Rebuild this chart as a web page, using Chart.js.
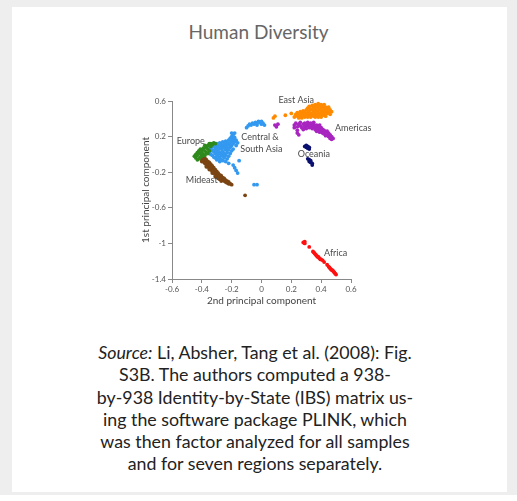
<!DOCTYPE html>
<html>
<head>
<meta charset="utf-8">
<script src="https://cdn.jsdelivr.net/npm/chart.js@4/dist/chart.umd.min.js"></script>
<style>
  html, body { margin: 0; padding: 0; background: #ffffff; width: 517px; height: 501px; overflow: hidden; }
  #frame { position: absolute; left: 0; top: 0; width: 517px; height: 495px; background: #eeeeee; }
  #card { position: absolute; left: 12px; top: 7px; width: 495px; height: 485px; background: #ffffff; }
  #title { position: absolute; left: 0; top: 20px; width: 517px; text-align: center; font-family: Lato, sans-serif; font-size: 19px; color: #666666; line-height: 24px; }
  #chartBox { position: absolute; left: 120px; top: 80px; width: 260px; height: 240px; }
  #caption { position: absolute; left: 0; top: 341px; width: 510px; text-align: center; font-family: Lato, sans-serif; font-size: 17.8px; line-height: 22.3px; color: #222222; }
</style>
</head>
<body>
<div id="frame"><div id="card"></div></div>
<div id="title">Human Diversity</div>
<div id="chartBox"><canvas id="c" width="260" height="240"></canvas></div>
<div id="caption"><i>Source:</i> Li, Absher, Tang et al. (2008): Fig.<br>S3B. The authors computed a 938-<br>by-938 Identity-by-State (IBS) matrix us-<br>ing the software package PLINK, which<br>was then factor analyzed for all samples<br>and for seven regions separately.</div>
<script>
// ---- data (x = 2nd principal component, y = 1st principal component) ----
const regions = ["Europe", "Mideast", "Central & South Asia", "East Asia", "Americas", "Oceania", "Africa"];

const europe = [[-0.45,-0.02],[-0.44,0.00],[-0.44,-0.04],[-0.43,0.02],[-0.43,-0.01],[-0.42,0.04],[-0.42,-0.05],[-0.41,0.01],[-0.41,-0.03],[-0.40,0.05],[-0.40,0.02],[-0.40,-0.02],[-0.39,0.07],[-0.39,0.00],[-0.38,0.04],[-0.38,-0.01],[-0.37,0.08],[-0.37,0.02],[-0.36,0.06],[-0.36,0.10],[-0.35,0.04],[-0.35,0.12],[-0.34,0.09],[-0.34,0.12],[-0.33,0.11],[-0.32,0.13],[-0.31,0.12],[-0.43,-0.06],[-0.41,0.06],[-0.38,0.10],[-0.36,0.01],[-0.42,0.03]];

const mideast = [[-0.41,-0.04],[-0.40,-0.02],[-0.40,-0.06],[-0.39,-0.05],[-0.39,-0.08],[-0.38,-0.07],[-0.38,-0.10],[-0.37,-0.09],[-0.37,-0.12],[-0.36,-0.11],[-0.36,-0.14],[-0.35,-0.12],[-0.35,-0.15],[-0.34,-0.14],[-0.34,-0.17],[-0.33,-0.16],[-0.33,-0.19],[-0.32,-0.18],[-0.32,-0.21],[-0.31,-0.20],[-0.31,-0.23],[-0.30,-0.22],[-0.30,-0.25],[-0.29,-0.24],[-0.28,-0.26],[-0.28,-0.28],[-0.27,-0.27],[-0.26,-0.29],[-0.25,-0.30],[-0.24,-0.31],[-0.23,-0.32],[-0.22,-0.33],[-0.21,-0.33],[-0.20,-0.34],[-0.11,-0.46],
  [-0.40,-0.08],[-0.39,-0.02],[-0.38,-0.04],[-0.37,-0.06],[-0.36,-0.08],[-0.35,-0.09],[-0.34,-0.11],[-0.33,-0.13],[-0.32,-0.15],[-0.31,-0.17],[-0.30,-0.19],[-0.29,-0.21],[-0.29,-0.27],[-0.28,-0.23],[-0.27,-0.24],[-0.27,-0.30],[-0.26,-0.26],[-0.25,-0.27],[-0.24,-0.29],[-0.23,-0.30],[-0.22,-0.31],[-0.37,-0.14],[-0.35,-0.17],[-0.33,-0.21],[-0.31,-0.25]];

const centralSouthAsia = [[-0.35,0.06],[-0.35,0.02],[-0.34,0.08],[-0.34,0.04],[-0.34,0.00],[-0.33,0.10],[-0.33,0.05],[-0.33,-0.01],[-0.32,0.09],[-0.32,0.03],[-0.32,-0.03],[-0.31,0.11],[-0.31,0.06],[-0.31,0.01],[-0.31,-0.04],[-0.30,0.12],[-0.30,0.08],[-0.30,0.03],[-0.30,-0.02],[-0.30,-0.06],[-0.29,0.10],[-0.29,0.05],[-0.29,0.00],[-0.29,-0.05],[-0.28,0.13],[-0.28,0.08],[-0.28,0.02],[-0.28,-0.03],[-0.28,-0.08],[-0.27,0.11],[-0.27,0.06],[-0.27,0.00],[-0.27,-0.06],[-0.26,0.14],[-0.26,0.09],[-0.26,0.03],[-0.26,-0.02],[-0.26,-0.07],[-0.25,0.12],[-0.25,0.07],[-0.25,0.01],[-0.25,-0.04],[-0.24,0.15],[-0.24,0.10],[-0.24,0.05],[-0.24,-0.01],[-0.24,-0.08],[-0.23,0.13],[-0.23,0.08],[-0.23,0.02],[-0.23,-0.05],[-0.22,0.16],[-0.22,0.11],[-0.22,0.05],[-0.22,-0.02],[-0.21,0.18],[-0.21,0.13],[-0.21,0.08],[-0.21,0.01],[-0.20,0.20],[-0.20,0.15],[-0.20,0.10],[-0.20,0.04],[-0.19,0.22],[-0.19,0.17],[-0.19,0.12],[-0.19,0.06],[-0.18,0.19],[-0.18,0.14],[-0.17,0.16],[-0.17,0.10],[-0.16,0.13],[-0.18,0.24],[-0.20,0.24],
  [-0.22,-0.10],[-0.19,-0.12],[-0.18,-0.15],[-0.17,-0.18],[-0.16,-0.21],[-0.15,-0.07],[-0.05,-0.34],[-0.03,-0.34],
  [-0.10,0.30],[-0.09,0.32],[-0.08,0.34],[-0.07,0.33],[-0.06,0.35],[-0.05,0.34],[-0.04,0.36],[-0.03,0.35],[-0.02,0.37],[-0.01,0.36],[0.00,0.37],[0.01,0.35],[0.02,0.33],[-0.03,0.33],[0.00,0.34]];

const eastAsia = [[0.22,0.42],[0.23,0.45],[0.24,0.43],[0.24,0.47],[0.25,0.41],[0.25,0.45],[0.26,0.48],[0.26,0.43],[0.27,0.46],[0.27,0.41],[0.28,0.49],[0.28,0.44],[0.29,0.47],[0.29,0.42],[0.30,0.50],[0.30,0.45],[0.31,0.52],[0.31,0.47],[0.31,0.42],[0.32,0.54],[0.32,0.49],[0.32,0.44],[0.33,0.51],[0.33,0.46],[0.33,0.42],[0.34,0.55],[0.34,0.50],[0.34,0.45],[0.35,0.53],[0.35,0.48],[0.35,0.43],[0.36,0.56],[0.36,0.51],[0.36,0.46],[0.36,0.42],[0.37,0.54],[0.37,0.49],[0.37,0.44],[0.38,0.57],[0.38,0.52],[0.38,0.47],[0.38,0.42],[0.39,0.55],[0.39,0.50],[0.39,0.45],[0.40,0.56],[0.40,0.52],[0.40,0.47],[0.40,0.42],[0.41,0.54],[0.41,0.49],[0.41,0.44],[0.42,0.56],[0.42,0.51],[0.42,0.46],[0.43,0.53],[0.43,0.48],[0.43,0.43],[0.44,0.51],[0.44,0.46],[0.45,0.53],[0.45,0.48],[0.46,0.50],[0.46,0.45],[0.47,0.48],
  [0.08,0.41],[0.09,0.43],[0.16,0.44],[0.20,0.46]];

const americas = [[0.22,0.30],[0.22,0.33],[0.23,0.35],[0.24,0.31],[0.24,0.27],[0.25,0.34],[0.26,0.32],[0.26,0.36],[0.27,0.30],[0.28,0.34],[0.28,0.28],[0.29,0.35],[0.29,0.31],[0.30,0.33],[0.30,0.29],[0.31,0.36],[0.31,0.32],[0.32,0.34],[0.32,0.30],[0.33,0.35],[0.33,0.31],[0.34,0.33],[0.34,0.29],[0.35,0.34],[0.35,0.31],[0.36,0.32],[0.36,0.28],[0.37,0.33],[0.37,0.30],[0.37,0.26],[0.38,0.31],[0.38,0.27],[0.39,0.29],[0.39,0.25],[0.40,0.30],[0.40,0.26],[0.41,0.28],[0.41,0.24],[0.42,0.27],[0.42,0.23],[0.43,0.25],[0.43,0.21],[0.44,0.26],[0.44,0.22],[0.45,0.24],[0.45,0.20],[0.46,0.22],[0.46,0.18],[0.47,0.20],[0.47,0.17],[0.48,0.18],[0.35,0.36],[0.39,0.33],
  [0.09,0.33],[0.10,0.31],[0.11,0.34],[0.24,0.24],[0.25,0.22]];

const oceania = [[0.29,0.09],[0.30,0.08],[0.30,0.10],[0.31,0.07],[0.31,0.09],[0.32,0.06],[0.32,0.08],[0.31,-0.05],[0.32,-0.06],[0.32,-0.08],[0.33,-0.09],[0.33,-0.07],[0.34,-0.10],[0.34,-0.12]];

const africa = [[0.28,-0.99],[0.29,-0.98],[0.29,-1.00],[0.32,-1.04],[0.345,-1.09],[0.35,-1.10],[0.355,-1.11],[0.36,-1.12],[0.365,-1.13],[0.37,-1.14],[0.375,-1.15],[0.38,-1.15],[0.385,-1.16],[0.39,-1.17],[0.395,-1.18],[0.40,-1.18],[0.41,-1.19],[0.42,-1.21],[0.44,-1.24],[0.45,-1.26],[0.455,-1.27],[0.46,-1.28],[0.465,-1.29],[0.47,-1.30],[0.475,-1.30],[0.48,-1.31],[0.485,-1.32],[0.49,-1.33],[0.495,-1.34],[0.50,-1.35]];

const xTicks = [-0.6, -0.4, -0.2, 0, 0.2, 0.4, 0.6];
const yTicks = [-1.4, -1, -0.6, -0.2, 0.2, 0.6];

// region label texts and their anchor values on the axes
const labelTexts = ["East Asia", "Americas", "Central &", "South Asia", "Europe", "Mideast", "Oceania", "Africa"];
const labelX = [0.233, 0.493, -0.135, -0.142, -0.568, -0.507, 0.243, 0.419];
const labelY = [0.605, 0.291, 0.19, 0.055, 0.145, -0.29, 0.004, -1.113];
const labelAlign = ["center", "left", "left", "left", "left", "left", "left", "left"];

const colors = ["#2f8a1c", "#7b4513", "#3399f0", "#ff8a00", "#a825c0", "#0a1070", "#ff1010"];
const series = [europe, mideast, centralSouthAsia, eastAsia, americas, oceania, africa];

const labelPlugin = {
  id: 'regionLabels',
  afterDatasetsDraw(chart) {
    const ctx = chart.ctx, xs = chart.scales.x, ys = chart.scales.y;
    ctx.save();
    ctx.font = '9px Lato';
    ctx.fillStyle = '#4a4a4a';
    ctx.textBaseline = 'middle';
    labelTexts.forEach((t, i) => {
      ctx.textAlign = labelAlign[i];
      ctx.fillText(t, xs.getPixelForValue(labelX[i]), ys.getPixelForValue(labelY[i]));
    });
    ctx.restore();
  }
};

const fmt = v => String(Math.round(v * 10) / 10);

new Chart(document.getElementById('c'), {
  type: 'scatter',
  data: {
    datasets: series.map((pts, i) => ({
      label: regions[i],
      data: pts.map(p => ({ x: p[0], y: p[1] })),
      backgroundColor: colors[i],
      borderWidth: 0,
      pointRadius: 1.9,
      pointHoverRadius: 1.9
    }))
  },
  options: {
    responsive: false,
    animation: false,
    devicePixelRatio: 1,
    layout: { padding: { left: 16, top: 21, right: 29, bottom: 9 } },
    plugins: { legend: { display: false }, tooltip: { enabled: false } },
    scales: {
      x: {
        type: 'linear', min: -0.6, max: 0.6,
        afterBuildTicks: s => { s.ticks = xTicks.map(v => ({ value: v })); },
        afterFit: s => { s.height = 32; },
        grid: { display: true, drawOnChartArea: false, drawTicks: true, tickLength: 4, color: '#888888' },
        border: { display: true, color: '#888888', width: 1 },
        ticks: { callback: fmt, font: { family: 'Lato', size: 8 }, color: '#555555', padding: 2, maxRotation: 0 },
        title: { display: true, text: '2nd principal component', font: { family: 'Lato', size: 10 }, color: '#444444' }
      },
      y: {
        type: 'linear', min: -1.4, max: 0.6,
        afterBuildTicks: s => { s.ticks = yTicks.map(v => ({ value: v })); },
        afterFit: s => { s.width = 36; },
        grid: { display: true, drawOnChartArea: false, drawTicks: true, tickLength: 4, color: '#888888' },
        border: { display: true, color: '#888888', width: 1 },
        ticks: { callback: fmt, font: { family: 'Lato', size: 8 }, color: '#555555', padding: 2 },
        title: { display: true, text: '1st principal component', font: { family: 'Lato', size: 10 }, color: '#444444' }
      }
    }
  },
  plugins: [labelPlugin]
});
</script>
</body>
</html>
